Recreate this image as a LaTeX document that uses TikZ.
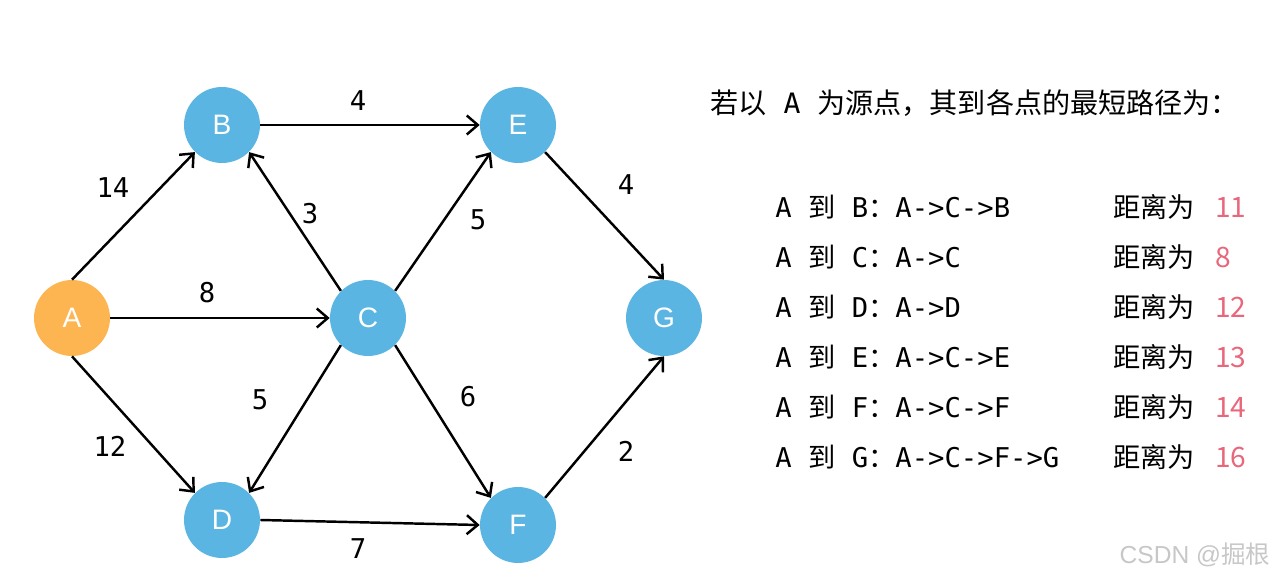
\documentclass[tikz,border=0pt]{standalone}
\usepackage{fontspec}
\setmainfont{Liberation Sans}
\newfontfamily\cjk{Noto Sans CJK SC}
\newfontfamily\mono{DejaVu Sans Mono}
\usetikzlibrary{arrows.meta}
\definecolor{nodeblue}{HTML}{5BB5E3}
\definecolor{nodeorange}{HTML}{FDB552}
\definecolor{distred}{HTML}{E8677B}

\begin{document}
\begin{tikzpicture}[x=0.02cm, y=-0.02cm,
    vertex/.style={circle, fill=nodeblue, minimum size=1.52cm, inner sep=0pt,
        text=white, font=\fontsize{16}{18}\selectfont},
    edge/.style={-{Straight Barb[length=2.2mm, width=3.8mm]}, line width=1.4pt},
    weight/.style={font=\mono\fontsize{15.5}{17}\selectfont},
    rowtext/.style={anchor=west, inner sep=0pt, font=\mono\fontsize{15.5}{17}\selectfont}]
    \useasboundingbox (0,0) rectangle (1276,578);

    % vertices
    \node[vertex, fill=nodeorange] (A) at (72,318) {A};
    \node[vertex] (B) at (222,125) {B};
    \node[vertex] (C) at (368,318) {C};
    \node[vertex] (D) at (222,520) {D};
    \node[vertex] (E) at (518,125) {E};
    \node[vertex] (F) at (518,525) {F};
    \node[vertex] (G) at (664,318) {G};

    % directed edges
    \draw[edge] (A.north) -- (B.south west);
    \draw[edge] (A.east) -- (C.west);
    \draw[edge] (A.south) -- (D.north west);
    \draw[edge] (B.east) -- (E.west);
    \draw[edge] (C.north west) -- (B.south east);
    \draw[edge] (C.north east) -- (E.south west);
    \draw[edge] (C.south west) -- (D.north east);
    \draw[edge] (C.south east) -- (F.north west);
    \draw[edge] (D.east) -- (F.west);
    \draw[edge] (E.south east) -- (G.north);
    \draw[edge] (F.north east) -- (G.south);

    % edge weights
    \node[weight] (wAB) at (113,188) {14};
    \node[weight] (wAC) at (207,293) {8};
    \node[weight] (wAD) at (110,446) {12};
    \node[weight] (wBE) at (358,101) {4};
    \node[weight] (wCB) at (310,214) {3};
    \node[weight] (wCE) at (478,220) {5};
    \node[weight] (wCD) at (260,400) {5};
    \node[weight] (wCF) at (468,397) {6};
    \node[weight] (wDF) at (358,549) {7};
    \node[weight] (wEG) at (626,185) {4};
    \node[weight] (wFG) at (626,451) {2};

    % shortest paths from A
    \node[rowtext, font=\cjk\fontsize{16}{18}\selectfont] (title) at (710,103)
        {若以{\mono\ A\ }为源点，其到各点的最短路径为：};
    \foreach \dst/\route/\dist [count=\i] in {B/A->C->B/11, C/A->C/8, D/A->D/12,
        E/A->C->E/13, F/A->C->F/14, G/A->C->F->G/16} {
        \node[rowtext] (route\i) at (775,{157+50*\i}) {A\ {\cjk 到}\ \dst{\cjk ：}\route};
        \node[rowtext, font=\cjk\fontsize{15.5}{17}\selectfont] (label\i) at (1113,{157+50*\i}) {距离为};
        \node[rowtext, font=\cjk\fontsize{16}{18}\selectfont, text=distred] (dist\i) at (1215,{157+50*\i}) {\dist};
    }

    % watermark
    \node[font=\fontsize{14}{16}\selectfont, text=black!22] (mark) at (1195,555) {CSDN @{\cjk 掘根}};
\end{tikzpicture}
\end{document}
